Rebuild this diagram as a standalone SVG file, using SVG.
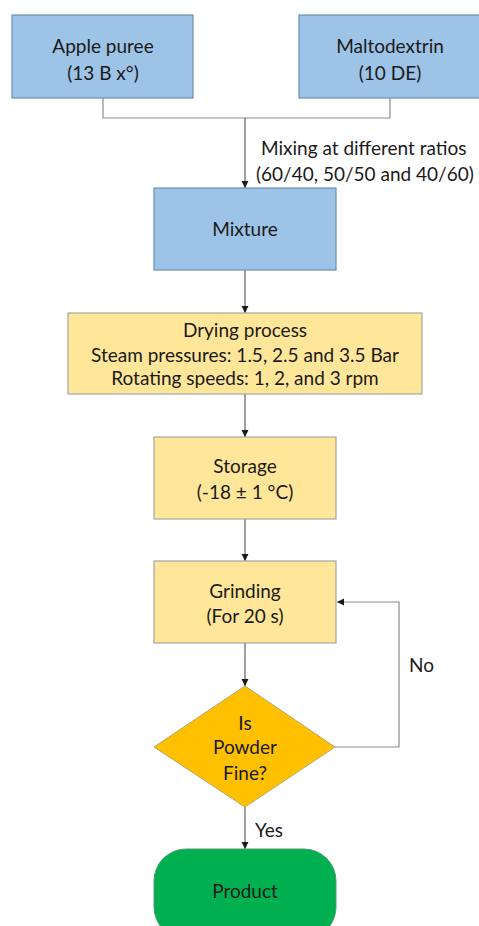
<svg xmlns="http://www.w3.org/2000/svg" width="479" height="926" viewBox="0 0 479 926">
<style>
.blue{fill:#9DC3E6;stroke:#6A8DB8;stroke-width:1.2}
.yel{fill:#FFE699;stroke:#A6A6A6;stroke-width:1.2}
.dia{fill:#FFC000;stroke:#B8A36A;stroke-width:1}
.grn{fill:#00B050;stroke:#4E9E6C;stroke-width:1}
text{font-family:Lato,"Open Sans","Liberation Sans",sans-serif;font-size:19px;fill:#1a1a1a;text-anchor:middle}
.lbl{text-anchor:start}
.c{fill:none;stroke:#404040;stroke-width:1}
.c2{fill:none;stroke:#8C8C8C;stroke-width:1.2}
</style>
<defs>
<marker id="ah" markerWidth="8" markerHeight="8" refX="7" refY="4" orient="auto" markerUnits="userSpaceOnUse">
<path d="M0,0.5 L7,4 L0,7.5 Z" fill="#1a1a1a"/>
</marker>
</defs>
<rect width="479" height="926" fill="#fff"/>
<g id="connectors">
<path class="c2" d="M103,98 V118 H390 V98"/>
<path class="c" d="M245,118 V188" marker-end="url(#ah)"/>
<path class="c" d="M245,270 V313" marker-end="url(#ah)"/>
<path class="c" d="M245,394 V437" marker-end="url(#ah)"/>
<path class="c" d="M245,519 V561" marker-end="url(#ah)"/>
<path class="c" d="M245,643 V686" marker-end="url(#ah)"/>
<path class="c" d="M245,807 V849" marker-end="url(#ah)"/>
<path class="c2" d="M335,747 H399 V602 H337" marker-end="url(#ah)"/>
<text class="lbl" x="261" y="155">Mixing at different ratios</text>
<text class="lbl" x="256" y="181">(60/40, 50/50 and 40/60)</text>
<text class="lbl" x="409" y="672">No</text>
<text class="lbl" x="255" y="837">Yes</text>
</g>
<g id="apple">
<rect class="blue" x="12" y="15" width="181" height="83"/>
<text x="103" y="53">Apple puree</text>
<text x="103" y="80">(13 B x°)</text>
</g>
<g id="malto">
<rect class="blue" x="299" y="15" width="182" height="83"/>
<text x="390" y="53">Maltodextrin</text>
<text x="390" y="80">(10 DE)</text>
</g>
<g id="mixture">
<rect class="blue" x="154" y="188" width="182" height="82"/>
<text x="245" y="236">Mixture</text>
</g>
<g id="drying">
<rect class="yel" x="68" y="313" width="354" height="81"/>
<text x="245" y="337">Drying process</text>
<text x="245" y="362">Steam pressures: 1.5, 2.5 and 3.5 Bar</text>
<text x="245" y="385">Rotating speeds: 1, 2, and 3 rpm</text>
</g>
<g id="storage">
<rect class="yel" x="154" y="437" width="182" height="82"/>
<text x="245" y="473">Storage</text>
<text x="245" y="499">(-18 ± 1 °C)</text>
</g>
<g id="grinding">
<rect class="yel" x="154" y="561" width="182" height="82"/>
<text x="245" y="598">Grinding</text>
<text x="245" y="623">(For 20 s)</text>
</g>
<g id="decision">
<polygon class="dia" points="245,686 335,747 245,807 154,747"/>
<text x="245" y="730">Is</text>
<text x="245" y="754">Powder</text>
<text x="245" y="780">Fine?</text>
</g>
<g id="product">
<rect class="grn" x="154" y="849" width="182" height="90" rx="32" ry="32"/>
<text x="245" y="898">Product</text>
</g>
</svg>
